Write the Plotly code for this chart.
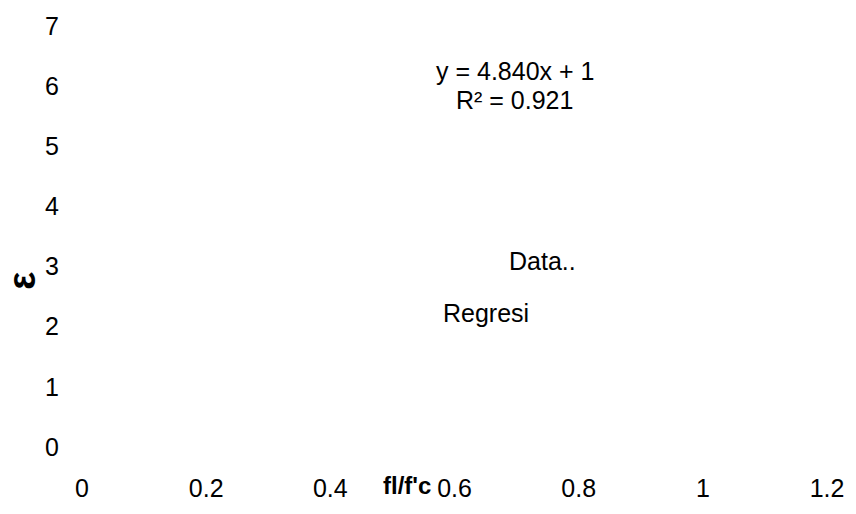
import plotly.graph_objects as go

# Data
x_ticks = [0, 0.2, 0.4, 0.6, 0.8, 1, 1.2]
x_tick_labels = ["0", "0.2", "0.4", "0.6", "0.8", "1", "1.2"]
y_ticks = [0, 1, 2, 3, 4, 5, 6, 7]
y_tick_labels = ["0", "1", "2", "3", "4", "5", "6", "7"]
slope = 4.840
intercept = 1
r_squared = 0.921
legend_names = ["Data..", "Regresi"]
data_x = []
data_y = []

FONT = "Liberation Sans, Arial, sans-serif"

fig = go.Figure()
fig.add_trace(go.Scatter(x=data_x, y=data_y, mode="markers", name=legend_names[0],
                         showlegend=False))
fig.add_trace(go.Scatter(x=data_x, y=data_y, mode="lines", name=legend_names[1],
                         showlegend=False))

eq_line1 = f"y = {slope:.3f}x + {intercept}"
eq_line2 = f"R² = {r_squared:.3f}"

fig.update_layout(
    width=856, height=514,
    margin=dict(l=82, r=25, t=18, b=57),
    paper_bgcolor="white", plot_bgcolor="white",
    font=dict(family=FONT, size=25, color="black"),
    xaxis=dict(range=[0, 1.2], tickvals=x_ticks, ticktext=x_tick_labels,
               showgrid=False, zeroline=False, showline=False, ticks="",
               ticklabelstandoff=24, tickfont=dict(size=25, color="black")),
    yaxis=dict(range=[0, 7], tickvals=y_ticks, ticktext=y_tick_labels,
               showgrid=False, zeroline=False, showline=False, ticks="",
               ticklabelstandoff=22, tickfont=dict(size=25, color="black")),
    annotations=[
        dict(text=eq_line1, x=0.697, y=6.25, xref="x", yref="y", showarrow=False,
             font=dict(size=25, color="black")),
        dict(text=eq_line2, x=0.697, y=5.77, xref="x", yref="y", showarrow=False,
             font=dict(size=25, color="black")),
        dict(text=legend_names[0], x=0.742, y=3.09, xref="x", yref="y", showarrow=False,
             font=dict(size=25, color="black")),
        dict(text=legend_names[1], x=0.65, y=2.23, xref="x", yref="y", showarrow=False,
             font=dict(size=25, color="black")),
        dict(text="<b>fl/f'c</b>", x=0.4366, y=-0.0911, xref="paper", yref="paper",
             showarrow=False, xanchor="center", yanchor="middle",
             font=dict(size=24, color="black")),
        dict(text="<b>ε</b>", x=-0.080, y=0.396, xref="paper", yref="paper",
             showarrow=False, xanchor="center", yanchor="middle", textangle=-90,
             font=dict(size=38, color="black")),
    ],
)

fig.write_html("out.html")
